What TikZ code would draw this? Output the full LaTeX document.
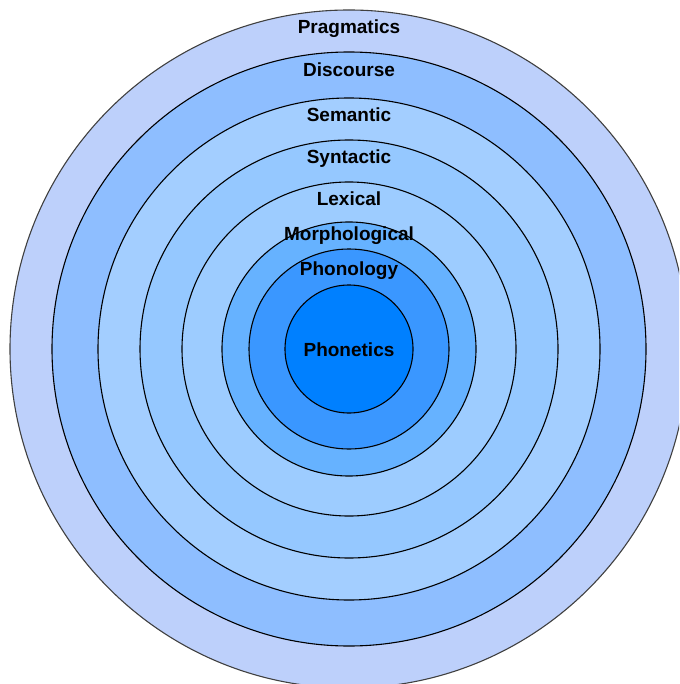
\documentclass[tikz,border=0pt]{standalone}
\usepackage{fontspec}
\setmainfont{Liberation Sans}
\definecolor{cPrag}{HTML}{BDD0FB}
\definecolor{cDisc}{HTML}{8EBEFF}
\definecolor{cSem}{HTML}{A3CEFF}
\definecolor{cSyn}{HTML}{95C8FF}
\definecolor{cLex}{HTML}{9DCCFF}
\definecolor{cMor}{HTML}{66B2FF}
\definecolor{cPhon}{HTML}{3A97FF}
\definecolor{cPhet}{HTML}{0080FF}
\begin{document}
\begin{tikzpicture}[x=1pt,y=-1pt,
  ring/.style={draw=black,line width=1.1pt},
  lbl/.style={font=\fontsize{19}{21}\selectfont\bfseries,text=black,inner sep=0pt,anchor=base}]
\useasboundingbox (0,0) rectangle (679,684);
\begin{scope}
\clip (0,0) rectangle (679,684);
\coordinate (c) at (349,349);
\fill[cPrag,draw=black!75,line width=1.1pt] (c) circle[radius=339];
\fill[cDisc,ring] (c) circle[radius=297];
\fill[cSem,ring] (c) circle[radius=251];
\fill[cSyn,ring] (c) circle[radius=209];
\fill[cLex,ring] (c) circle[radius=167];
\fill[cMor,ring] (c) circle[radius=127];
\fill[cPhon,ring] (c) circle[radius=100];
\fill[cPhet,ring] (c) circle[radius=64];
\end{scope}
\node[lbl] (prag) at (349,34) {Pragmatics};
\node[lbl] (disc) at (349,77) {Discourse};
\node[lbl] (sem) at (349,122) {Semantic};
\node[lbl] (syn) at (349,164) {Syntactic};
\node[lbl] (lex) at (349,206) {Lexical};
\node[lbl] (mor) at (349,241) {Morphological};
\node[lbl] (phon) at (349,276) {Phonology};
\node[lbl] (phet) at (349,356) {Phonetics};
\end{tikzpicture}
\end{document}
